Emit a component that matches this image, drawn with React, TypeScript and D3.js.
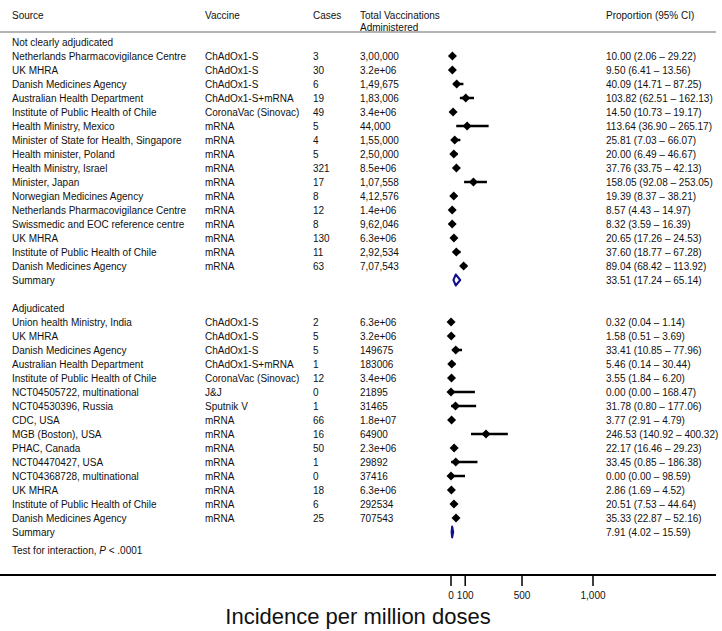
import React from "react";
import * as d3 from "d3";

const sources1 = ["Netherlands Pharmacovigilance Centre","UK MHRA","Danish Medicines Agency","Australian Health Department","Institute of Public Health of Chile","Health Ministry, Mexico","Minister of State for Health, Singapore","Health minister, Poland","Health Ministry, Israel","Minister, Japan","Norwegian Medicines Agency","Netherlands Pharmacovigilance Centre","Swissmedic and EOC reference centre","UK MHRA","Institute of Public Health of Chile","Danish Medicines Agency"];
const vaccines1 = ["ChAdOx1-S","ChAdOx1-S","ChAdOx1-S","ChAdOx1-S+mRNA","CoronaVac (Sinovac)","mRNA","mRNA","mRNA","mRNA","mRNA","mRNA","mRNA","mRNA","mRNA","mRNA","mRNA"];
const cases1 = ["3","30","6","19","49","5","4","5","321","17","8","12","8","130","11","63"];
const totals1 = ["3,00,000","3.2e+06","1,49,675","1,83,006","3.4e+06","44,000","1,55,000","2,50,000","8.5e+06","1,07,558","4,12,576","1.4e+06","9,62,046","6.3e+06","2,92,534","7,07,543"];
const est1 = [10.00,9.50,40.09,103.82,14.50,113.64,25.81,20.00,37.76,158.05,19.39,8.57,8.32,20.65,37.60,89.04];
const lo1 = [2.06,6.41,14.71,62.51,10.73,36.90,7.03,6.49,33.75,92.08,8.37,4.43,3.59,17.26,18.77,68.42];
const hi1 = [29.22,13.56,87.25,162.13,19.17,265.17,66.07,46.67,42.13,253.05,38.21,14.97,16.39,24.53,67.28,113.92];
const summary1 = [33.51, 17.24, 65.14];

const sources2 = ["Union health Ministry, India","UK MHRA","Danish Medicines Agency","Australian Health Department","Institute of Public Health of Chile","NCT04505722, multinational","NCT04530396, Russia","CDC, USA","MGB (Boston), USA","PHAC, Canada","NCT04470427, USA","NCT04368728, multinational","UK MHRA","Institute of Public Health of Chile","Danish Medicines Agency"];
const vaccines2 = ["ChAdOx1-S","ChAdOx1-S","ChAdOx1-S","ChAdOx1-S+mRNA","CoronaVac (Sinovac)","J&J","Sputnik V","mRNA","mRNA","mRNA","mRNA","mRNA","mRNA","mRNA","mRNA"];
const cases2 = ["2","5","5","1","12","0","1","66","16","50","1","0","18","6","25"];
const totals2 = ["6.3e+06","3.2e+06","149675","183006","3.4e+06","21895","31465","1.8e+07","64900","2.3e+06","29892","37416","6.3e+06","292534","707543"];
const est2 = [0.32,1.58,33.41,5.46,3.55,0.00,31.78,3.77,246.53,22.17,33.45,0.00,2.86,20.51,35.33];
const lo2 = [0.04,0.51,10.85,0.14,1.84,0.00,0.80,2.91,140.92,16.46,0.85,0.00,1.69,7.53,22.87];
const hi2 = [1.14,3.69,77.96,30.44,6.20,168.47,177.06,4.79,400.32,29.23,186.38,98.59,4.52,44.64,52.16];
const summary2 = [7.91, 4.02, 15.59];

const groupLabels = ["Not clearly adjudicated", "Adjudicated"];
const headers = ["Source", "Vaccine", "Cases", "Total Vaccinations", "Proportion (95% CI)"];
const axisTicks = [0, 100, 500, 1000];

const W = 722, H = 631;
const FONT = "Liberation Sans, Arial, Helvetica, sans-serif";
const NAVY = "#10108a";
const INK = "#111";

const fmt = (v: number) => v.toFixed(2);
const ciLabel = (e: number, l: number, h: number) => `${fmt(e)} (${fmt(l)} \u2013 ${fmt(h)})`;

type Row = { kind: "group" | "study" | "summary" | "blank" | "test"; label?: string; vaccine?: string; cases?: string; total?: string; est?: number; lo?: number; hi?: number };

function buildRows(): Row[] {
  const rows: Row[] = [];
  rows.push({ kind: "group", label: groupLabels[0] });
  sources1.forEach((s, i) => rows.push({ kind: "study", label: s, vaccine: vaccines1[i], cases: cases1[i], total: totals1[i], est: est1[i], lo: lo1[i], hi: hi1[i] }));
  rows.push({ kind: "summary", label: "Summary", est: summary1[0], lo: summary1[1], hi: summary1[2] });
  rows.push({ kind: "blank" });
  rows.push({ kind: "group", label: groupLabels[1] });
  sources2.forEach((s, i) => rows.push({ kind: "study", label: s, vaccine: vaccines2[i], cases: cases2[i], total: totals2[i], est: est2[i], lo: lo2[i], hi: hi2[i] }));
  rows.push({ kind: "summary", label: "Summary", est: summary2[0], lo: summary2[1], hi: summary2[2] });
  rows.push({ kind: "test" });
  return rows;
}

export default function App() {
  const rows = buildRows();
  const y = d3.scaleLinear().domain([0, 35]).range([42, 42 + 35 * 14]);
  const x = d3.scaleLinear().domain([0, 1000]).range([451, 593]);
  const colX = { source: 12, vaccine: 205, cases: 313, total: 360, prop: 606 };
  const axisY = 575;
  const fs = 10;

  return (
    <svg width={W} height={H} style={{ position: "absolute", left: 0, top: 0, background: "#fff" }} fontFamily={FONT}>
      <rect x={0} y={0} width={W} height={H} fill="#fff" />
      <g fontSize={fs} fill={INK}>
        <text x={colX.source} y={15} dy="0.35em">{headers[0]}</text>
        <text x={colX.vaccine} y={15} dy="0.35em">{headers[1]}</text>
        <text x={colX.cases} y={15} dy="0.35em">{headers[2]}</text>
        <text x={colX.total} y={15} dy="0.35em">{headers[3]}</text>
        <text x={colX.total} y={27} dy="0.35em">Administered</text>
        <text x={colX.prop} y={15} dy="0.35em">{headers[4]}</text>
      </g>
      <line x1={0} x2={716} y1={32} y2={32} stroke="#9a9a9a" strokeWidth={1.5} />
      {rows.map((r, i) => {
        if (r.kind === "blank") return null;
        if (r.kind === "test") {
          const yy = y(i - 1) + 18;
          return (
            <text key={i} x={colX.source} y={yy} dy="0.35em" fontSize={fs} fill={INK}>
              Test for interaction, <tspan fontStyle="italic">P</tspan> &lt; .0001
            </text>
          );
        }
        const yy = y(i);
        if (r.kind === "group") {
          return <text key={i} x={colX.source} y={yy} dy="0.35em" fontSize={fs} fill={INK}>{r.label}</text>;
        }
        if (r.kind === "summary") {
          const pts = [[x(r.lo!), yy], [x(r.est!), yy - 5.5], [x(r.hi!), yy], [x(r.est!), yy + 5.5]];
          return (
            <g key={i}>
              <text x={colX.source} y={yy} dy="0.35em" fontSize={fs} fill={INK}>{r.label}</text>
              <polygon points={pts.map(p => p.join(",")).join(" ")} fill="#fff" stroke={NAVY} strokeWidth={2} strokeLinejoin="round" />
              <text x={colX.prop} y={yy} dy="0.35em" fontSize={fs} fill={INK}>{ciLabel(r.est!, r.lo!, r.hi!)}</text>
            </g>
          );
        }
        const cx = x(r.est!);
        const d = 4.5;
        return (
          <g key={i}>
            <text x={colX.source} y={yy} dy="0.35em" fontSize={fs} fill={INK}>{r.label}</text>
            <text x={colX.vaccine} y={yy} dy="0.35em" fontSize={fs} fill={INK}>{r.vaccine}</text>
            <text x={colX.cases} y={yy} dy="0.35em" fontSize={fs} fill={INK}>{r.cases}</text>
            <text x={colX.total} y={yy} dy="0.35em" fontSize={fs} fill={INK}>{r.total}</text>
            <line x1={x(r.lo!)} x2={x(r.hi!)} y1={yy} y2={yy} stroke="#000" strokeWidth={2.5} />
            <polygon points={`${cx - d},${yy} ${cx},${yy - d} ${cx + d},${yy} ${cx},${yy + d}`} fill="#000" />
            <text x={colX.prop} y={yy} dy="0.35em" fontSize={fs} fill={INK}>{ciLabel(r.est!, r.lo!, r.hi!)}</text>
          </g>
        );
      })}
      <line x1={0} x2={716} y1={axisY} y2={axisY} stroke="#000" strokeWidth={2} />
      {axisTicks.map(t => (
        <g key={t}>
          <line x1={x(t)} x2={x(t)} y1={axisY} y2={axisY + 11} stroke="#000" strokeWidth={1.5} />
          <text x={x(t)} y={axisY + 20} dy="0.35em" textAnchor="middle" fontSize={10} fill={INK}>{d3.format(",")(t)}</text>
        </g>
      ))}
      <text x={358} y={616} dy="0.35em" textAnchor="middle" fontSize={22} fill={INK}>Incidence per million doses</text>
    </svg>
  );
}
